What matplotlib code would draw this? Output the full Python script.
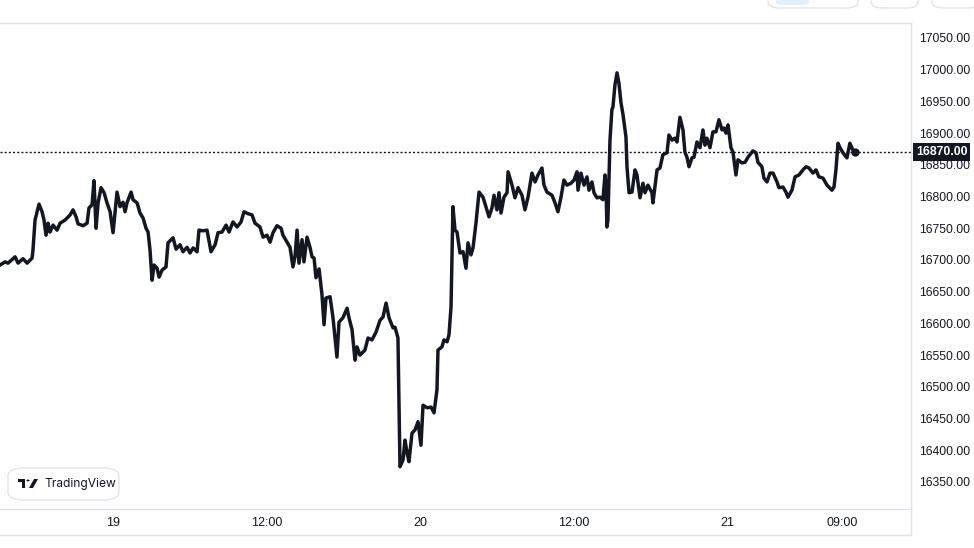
import matplotlib
matplotlib.use("Agg")
import matplotlib.pyplot as plt
from matplotlib.patches import FancyBboxPatch, Polygon, Circle, Rectangle
from matplotlib.lines import Line2D

plt.rcParams['font.family'] = ['Liberation Sans', 'DejaVu Sans']

# hours since 19 Dec 00:00 and price
hours = [
    -8.84, -8.44, -8.21, -7.66, -7.43, -7.04, -6.72, -6.33, -6.26, -6.10,
    -5.79, -5.55, -5.40, -5.24, -5.08, -4.93, -4.69, -4.38, -4.14, -3.75,
    -3.36, -3.13, -2.89, -2.74, -2.35, -2.03, -1.88, -1.64, -1.49, -1.33,
    -1.17, -0.94, -0.70, -0.47, -0.23, 0.00, 0.31, 0.55, 0.78, 0.94,
    1.09, 1.41, 1.56, 1.88, 2.11, 2.35, 2.58, 2.74, 2.89, 3.05,
    3.21, 3.44, 3.60, 3.83, 4.14, 4.30, 4.69, 4.93, 5.24, 5.47,
    5.79, 6.02, 6.26, 6.57, 6.72, 7.04, 7.35, 7.66, 7.98, 8.21,
    8.52, 8.84, 9.07, 9.38, 9.70, 10.01, 10.24, 10.56, 10.87, 11.10,
    11.49, 11.73, 12.04, 12.28, 12.51, 12.82, 13.14, 13.29, 13.61, 13.84,
    14.07, 14.23, 14.39, 14.54, 14.78, 14.93, 15.17, 15.40, 15.56, 15.72,
    15.87, 16.11, 16.34, 16.50, 16.65, 16.97, 17.20, 17.51, 17.67, 17.98,
    18.30, 18.45, 18.69, 18.92, 19.08, 19.31, 19.70, 19.94, 20.25, 20.56,
    20.88, 21.11, 21.35, 21.58, 21.89, 22.05, 22.28, 22.36, 22.44, 22.68,
    22.83, 22.99, 23.14, 23.38, 23.61, 23.85, 24.08, 24.24, 24.55, 24.87,
    25.10, 25.33, 25.41, 25.72, 25.88, 26.12, 26.27, 26.43, 26.58, 26.74,
    26.90, 27.13, 27.37, 27.60, 27.76, 27.99, 28.15, 28.38, 28.62, 28.93,
    29.16, 29.40, 29.63, 29.79, 30.02, 30.18, 30.34, 30.57, 30.81, 30.89,
    31.20, 31.43, 31.67, 31.98, 32.21, 32.45, 32.76, 33.00, 33.23, 33.54,
    33.70, 33.93, 34.33, 34.56, 34.79, 35.03, 35.26, 35.50, 35.81, 36.05,
    36.28, 36.36, 36.59, 36.83, 37.06, 37.22, 37.45, 37.61, 37.84, 38.08,
    38.31, 38.47, 38.55, 38.62, 38.70, 38.86, 39.01, 39.09, 39.25, 39.41,
    39.56, 39.72, 39.88, 40.11, 40.19, 40.35, 40.58, 40.82, 40.97, 41.21,
    41.44, 41.60, 41.83, 42.14, 42.22, 42.54, 42.77, 43.00, 43.32, 43.47,
    43.71, 43.94, 44.10, 44.33, 44.57, 44.72, 44.88, 45.04, 45.27, 45.43,
    45.66, 45.90, 46.13, 46.29, 46.44, 46.68, 46.91, 47.15, 47.38, 47.62,
    47.77, 47.93, 48.09, 48.32, 48.48, 48.71, 48.87, 49.18, 49.42, 49.65,
    50.04, 50.28, 50.43, 50.74, 50.90, 51.14, 51.37, 51.61, 51.92, 52.07,
    52.39, 52.62, 52.78, 53.09, 53.33, 53.64, 53.95, 54.19, 54.42, 54.73,
    54.97, 55.20, 55.52, 55.83, 56.22, 56.38, 56.53, 56.69, 56.85, 57.08,
    57.39, 57.62, 57.86, 58.02,
]
prices = [
    16692, 16697, 16695, 16705, 16695, 16702, 16695, 16703, 16716, 16763,
    16788, 16776, 16763, 16739, 16758, 16744, 16755, 16747, 16758, 16763,
    16771, 16779, 16768, 16757, 16754, 16758, 16782, 16787, 16825, 16750,
    16790, 16814, 16806, 16790, 16776, 16743, 16807, 16784, 16791, 16776,
    16790, 16807, 16795, 16790, 16774, 16766, 16750, 16744, 16716, 16668,
    16692, 16687, 16673, 16684, 16689, 16727, 16735, 16717, 16724, 16713,
    16720, 16711, 16719, 16713, 16747, 16746, 16747, 16713, 16724, 16743,
    16744, 16755, 16744, 16760, 16752, 16760, 16776, 16773, 16771, 16758,
    16752, 16736, 16739, 16728, 16743, 16754, 16750, 16739, 16728, 16720,
    16689, 16705, 16747, 16695, 16732, 16697, 16736, 16720, 16705, 16703,
    16672, 16686, 16645, 16598, 16640, 16642, 16609, 16547, 16602, 16609,
    16624, 16609, 16590, 16542, 16563, 16550, 16558, 16577, 16574, 16586,
    16605, 16610, 16632, 16609, 16593, 16594, 16577, 16479, 16374, 16385,
    16416, 16396, 16382, 16427, 16432, 16445, 16408, 16471, 16467, 16468,
    16459, 16495, 16558, 16563, 16574, 16571, 16582, 16626, 16784, 16747,
    16744, 16711, 16713, 16687, 16727, 16708, 16719, 16758, 16807, 16799,
    16784, 16768, 16782, 16802, 16779, 16806, 16774, 16799, 16806, 16839,
    16818, 16798, 16814, 16802, 16779, 16799, 16837, 16823, 16834, 16845,
    16818, 16807, 16802, 16790, 16776, 16799, 16826, 16818, 16821, 16826,
    16839, 16810, 16837, 16818, 16831, 16810, 16823, 16806, 16798, 16799,
    16795, 16834, 16818, 16752, 16763, 16889, 16937, 16941, 16976, 16995,
    16979, 16948, 16929, 16894, 16847, 16806, 16807, 16842, 16834, 16798,
    16821, 16806, 16818, 16806, 16790, 16842, 16845, 16866, 16869, 16897,
    16889, 16892, 16886, 16925, 16905, 16870, 16862, 16847, 16861, 16862,
    16886, 16877, 16905, 16881, 16892, 16877, 16902, 16902, 16921, 16905,
    16908, 16900, 16913, 16877, 16870, 16834, 16858, 16853, 16854, 16862,
    16872, 16869, 16854, 16847, 16829, 16823, 16837, 16837, 16823, 16814,
    16815, 16807, 16799, 16810, 16831, 16834, 16842, 16847, 16845, 16837,
    16842, 16831, 16829, 16818, 16810, 16815, 16842, 16884, 16877, 16869,
    16861, 16884, 16873, 16870,
]

last_price = 16870
price_ticks = list(range(16350, 17051, 50))
time_ticks = [0, 12, 24, 36, 48, 57]
time_labels = ["19", "12:00", "20", "12:00", "21", "09:00"]

ink = "#131722"
border = "#e0e3eb"

W, H = 974, 548
fig = plt.figure(figsize=(W / 100, H / 100), dpi=100)
fig.patch.set_facecolor("white")

# plot pane: x 0..911 px, y 23..509 px
ax = fig.add_axes([0, 39 / H, 911 / W, 486 / H])
ax.plot(hours, prices, color=ink, lw=2.5, solid_joinstyle="round", zorder=3)
ax.plot(hours[-1], prices[-1], "o", color=ink, ms=5, zorder=4)
ax.axhline(last_price, color=ink, lw=1, linestyle=(0, (1.5, 1.5)), zorder=2)

ax.set_xlim(hours[0], 62.4)
ax.set_ylim(16307.4, 17073.6)

ax.yaxis.tick_right()
ax.set_yticks(price_ticks)
ax.set_yticklabels([f"{v:.2f}" for v in price_ticks])
ax.set_xticks(time_ticks)
ax.set_xticklabels(time_labels)
ax.tick_params(axis="y", length=0, pad=5.5, labelsize=8.7, labelcolor=ink)
ax.tick_params(axis="x", length=0, pad=5.5, labelsize=9, labelcolor=ink)

ax.spines["left"].set_visible(False)
for side in ["top", "right", "bottom"]:
    ax.spines[side].set_color(border)
    ax.spines[side].set_linewidth(1)

# last price tag on the price scale
ax.annotate(f"{last_price:.2f}", xy=(1, last_price),
            xycoords=("axes fraction", "data"), xytext=(3.6, 0),
            textcoords="offset points", ha="left", va="center",
            color="white", fontsize=8.8, fontweight="bold", zorder=10,
            bbox=dict(boxstyle="square,pad=0.22", fc=ink, ec="none"),
            annotation_clip=False)

# bottom edge of the time scale
fig.add_artist(Line2D([0, 911 / W], [13 / H, 13 / H], color=border, lw=1))
fig.add_artist(Line2D([911 / W, 911 / W], [13 / H, 39 / H], color=border, lw=1))

# toolbar buttons cut off at the top
for x0, x1 in [(768, 858), (871, 918), (932, 980)]:
    fig.add_artist(FancyBboxPatch((x0 / W, 1 - 8 / H), (x1 - x0) / W, 30 / H,
                                  boxstyle="round,pad=0,rounding_size=0.012",
                                  fc="white", ec=border, lw=1,
                                  transform=fig.transFigure))
fig.add_artist(FancyBboxPatch((776 / W, 1 - 5 / H), 33 / W, 12 / H,
                              boxstyle="round,pad=0,rounding_size=0.006",
                              fc="#e3effd", ec="none", transform=fig.transFigure))


def px(x, y):
    return (x / W, 1 - y / H)


# TradingView badge
fig.add_artist(FancyBboxPatch(px(8, 500), 111 / W, 32 / H,
                              boxstyle="round,pad=0,rounding_size=0.016",
                              fc="white", ec=border, lw=1,
                              transform=fig.transFigure, zorder=5))
fig.add_artist(Rectangle(px(18, 482), 7 / W, 3 / H, fc=ink, ec="none",
                         transform=fig.transFigure, zorder=6))
fig.add_artist(Rectangle(px(22, 488), 3 / W, 7 / H, fc=ink, ec="none",
                         transform=fig.transFigure, zorder=6))
fig.add_artist(Circle(px(28, 480.5), 1.6 / W, fc=ink, ec="none",
                      transform=fig.transFigure, zorder=6))
fig.add_artist(Polygon([px(34, 479), px(38, 479), px(33, 488), px(29, 488)],
                       closed=True, fc=ink, ec="none",
                       transform=fig.transFigure, zorder=6))
fig.text(44 / W, 1 - 484 / H, "TradingView", ha="left", va="center",
         fontsize=8.6, color=ink, family=["Inter", "DejaVu Sans"], zorder=6)

fig.savefig("out.png", dpi=100, facecolor="white")
